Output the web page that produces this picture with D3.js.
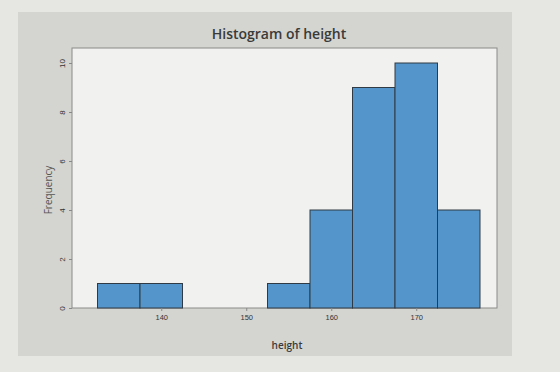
<!DOCTYPE html>
<head>
    <meta charset='utf-8'>
    <style>
        body {
            margin: 0;
            background: #e6e6e3;
            font-family: 'Open Sans', 'DejaVu Sans', sans-serif;
        }
        .tick text { fill: #333; }
    </style>
</head>
<body>
<div id='vis'></div>
<script src='https://cdn.jsdelivr.net/npm/d3@7'></script>
<script>
  // bin edges and counts
  const binStarts = [132.5, 137.5, 142.5, 147.5, 152.5, 157.5, 162.5, 167.5, 172.5]
  const counts    = [1, 1, 0, 0, 1, 4, 9, 10, 4]
  const binWidth = 5
  const xTicks = [140, 150, 160, 170]
  const yTicks = [0, 2, 4, 6, 8, 10]

  const W = 560, H = 372
  const plot = {left: 72, right: 497, top: 48, bottom: 308}

  const svg = d3.select('#vis')
    .append('svg')
    .attr('width', W)
    .attr('height', H)

  // grey panel
  svg.append('rect')
    .attr('x', 18).attr('y', 12)
    .attr('width', 494).attr('height', 344)
    .attr('fill', '#d4d4d0')

  // plot area
  svg.append('rect')
    .attr('x', plot.left).attr('y', plot.top)
    .attr('width', plot.right - plot.left).attr('height', plot.bottom - plot.top)
    .attr('fill', '#f1f1ef')
    .attr('stroke', '#8a8a88')
    .attr('stroke-width', 1)

  const x = d3.scaleLinear()
    .domain([129.5, 179.5])
    .range([plot.left, plot.right])

  const y = d3.scaleLinear()
    .domain([0, 10])
    .range([plot.bottom, 63])

  const bins = binStarts.map((s, i) => ({x0: s, x1: s + binWidth, n: counts[i]}))

  svg.append('g').selectAll('rect')
    .data(bins.filter(d => d.n > 0))
    .enter()
    .append('rect')
    .attr('x', d => x(d.x0))
    .attr('y', d => y(d.n))
    .attr('width', d => x(d.x1) - x(d.x0))
    .attr('height', d => y(0) - y(d.n))
    .attr('fill', '#5495cb')
    .attr('stroke', '#2f3a44')
    .attr('stroke-width', 1)

  // x axis
  const xAxis = svg.append('g')
    .attr('transform', `translate(0, ${plot.bottom})`)
    .call(d3.axisBottom(x).tickValues(xTicks).tickSize(3).tickPadding(4))
  xAxis.select('.domain').remove()
  xAxis.selectAll('line').attr('stroke', '#888')
  xAxis.selectAll('text').attr('font-size', 7.5)

  // y axis, labels turned like in Minitab
  const yAxis = svg.append('g')
    .attr('transform', `translate(${plot.left}, 0)`)
    .call(d3.axisLeft(y).tickValues(yTicks).tickSize(3))
  yAxis.select('.domain').remove()
  yAxis.selectAll('line').attr('stroke', '#888')
  yAxis.selectAll('text')
    .attr('font-size', 8)
    .attr('x', 0).attr('dy', 0)
    .attr('text-anchor', 'middle')
    .attr('transform', 'translate(-7,0) rotate(-90)')

  svg.append('text')
    .attr('x', 279).attr('y', 39)
    .attr('text-anchor', 'middle')
    .attr('font-size', 14)
    .attr('font-weight', 600)
    .attr('fill', '#3a3a3a')
    .text('Histogram of height')

  svg.append('text')
    .attr('x', 287).attr('y', 349)
    .attr('text-anchor', 'middle')
    .attr('font-size', 10)
    .attr('font-weight', 600)
    .attr('fill', '#3a3a3a')
    .text('height')

  svg.append('text')
    .attr('transform', 'translate(52, 190) rotate(-90)')
    .attr('text-anchor', 'middle')
    .attr('font-size', 10)
    .attr('fill', '#555')
    .text('Frequency')
</script>
</body>
